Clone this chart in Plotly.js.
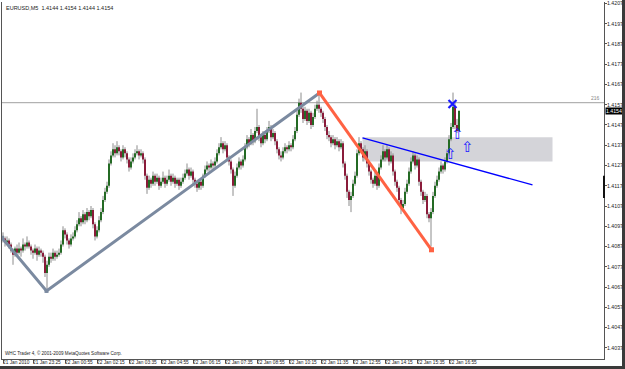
<!DOCTYPE html>
<html><head><meta charset="utf-8">
<script src="https://cdn.plot.ly/plotly-3.0.1.min.js"></script>
<style>html,body{margin:0;padding:0;background:#3a3a3a;width:625px;height:369px;overflow:hidden}#chart{width:622px;height:366px;background:#fff}</style>
</head><body><div id="chart"></div>
<script>
// EURUSD M5 bars (bar index 0 = 21 Jan 22:10)
const opens = [1.4092,1.4091,1.4089,1.4090,1.4088,1.4085,1.4083,1.4086,1.4084,1.4086,
1.4085,1.4088,1.4087,1.4089,1.4087,1.4085,1.4084,1.4086,1.4083,1.4085,
1.4084,1.4082,1.4074,1.4078,1.4082,1.4081,1.4084,1.4082,1.4083,1.4084,
1.4088,1.4095,1.4093,1.4090,1.4088,1.4091,1.4092,1.4095,1.4098,1.4101,
1.4099,1.4103,1.4100,1.4104,1.4102,1.4105,1.4098,1.4092,1.4095,1.4100,
1.4104,1.4110,1.4114,1.4117,1.4128,1.4132,1.4135,1.4133,1.4136,1.4134,
1.4131,1.4135,1.4133,1.4130,1.4126,1.4129,1.4131,1.4133,1.4134,1.4132,
1.4133,1.4130,1.4122,1.4116,1.4120,1.4118,1.4122,1.4119,1.4121,1.4117,
1.4119,1.4121,1.4118,1.4120,1.4122,1.4119,1.4121,1.4118,1.4120,1.4117,
1.4119,1.4121,1.4123,1.4125,1.4122,1.4124,1.4120,1.4118,1.4116,1.4119,
1.4117,1.4122,1.4125,1.4127,1.4126,1.4128,1.4127,1.4129,1.4133,1.4136,
1.4138,1.4135,1.4137,1.4131,1.4129,1.4125,1.4117,1.4122,1.4126,1.4129,
1.4127,1.4130,1.4136,1.4140,1.4138,1.4142,1.4139,1.4144,1.4146,1.4141,
1.4138,1.4142,1.4140,1.4144,1.4146,1.4141,1.4143,1.4139,1.4135,1.4132,
1.4131,1.4134,1.4136,1.4135,1.4137,1.4136,1.4140,1.4144,1.4152,1.4158,
1.4155,1.4150,1.4154,1.4149,1.4153,1.4147,1.4151,1.4155,1.4157,1.4155,
1.4153,1.4150,1.4146,1.4142,1.4141,1.4138,1.4140,1.4137,1.4139,1.4136,
1.4138,1.4128,1.4122,1.4114,1.4110,1.4112,1.4118,1.4122,1.4133,1.4138,
1.4135,1.4131,1.4134,1.4128,1.4124,1.4120,1.4118,1.4122,1.4117,1.4126,
1.4130,1.4134,1.4131,1.4135,1.4129,1.4132,1.4124,1.4119,1.4116,1.4110,
1.4106,1.4108,1.4114,1.4118,1.4124,1.4129,1.4132,1.4127,1.4130,1.4119,
1.4114,1.4110,1.4112,1.4103,1.4101,1.4104,1.4112,1.4117,1.4120,1.4124,
1.4127,1.4125,1.4129,1.4133,1.4140,1.4146,1.4156,1.4147,1.4144];
const highs = [1.4094,1.4092,1.4092,1.4091,1.4089,1.4086,1.4087,1.4088,1.4089,1.4087,
1.4091,1.4089,1.4092,1.4090,1.4088,1.4086,1.4088,1.4087,1.4087,1.4086,
1.4085,1.4083,1.4080,1.4084,1.4084,1.4086,1.4085,1.4085,1.4086,1.4090,
1.4097,1.4096,1.4094,1.4091,1.4093,1.4094,1.4097,1.4100,1.4104,1.4102,
1.4105,1.4104,1.4106,1.4105,1.4107,1.4106,1.4099,1.4097,1.4102,1.4106,
1.4112,1.4116,1.4119,1.4130,1.4134,1.4138,1.4137,1.4139,1.4137,1.4135,
1.4137,1.4136,1.4134,1.4131,1.4131,1.4133,1.4135,1.4137,1.4135,1.4135,
1.4134,1.4131,1.4123,1.4122,1.4121,1.4124,1.4123,1.4123,1.4122,1.4121,
1.4124,1.4122,1.4122,1.4125,1.4123,1.4123,1.4122,1.4121,1.4121,1.4121,
1.4123,1.4125,1.4128,1.4126,1.4126,1.4125,1.4121,1.4119,1.4120,1.4120,
1.4123,1.4127,1.4129,1.4128,1.4130,1.4129,1.4131,1.4135,1.4138,1.4141,
1.4139,1.4139,1.4138,1.4132,1.4130,1.4126,1.4124,1.4128,1.4131,1.4130,
1.4132,1.4138,1.4142,1.4141,1.4145,1.4143,1.4146,1.4155,1.4147,1.4142,
1.4144,1.4143,1.4146,1.4149,1.4147,1.4145,1.4144,1.4140,1.4136,1.4134,
1.4136,1.4138,1.4137,1.4139,1.4138,1.4142,1.4146,1.4154,1.4160,1.4163,
1.4156,1.4156,1.4155,1.4155,1.4154,1.4153,1.4157,1.4159,1.4163,1.4156,
1.4154,1.4151,1.4147,1.4144,1.4142,1.4142,1.4141,1.4141,1.4140,1.4140,
1.4139,1.4129,1.4123,1.4115,1.4114,1.4120,1.4124,1.4135,1.4141,1.4139,
1.4136,1.4137,1.4135,1.4129,1.4125,1.4121,1.4124,1.4123,1.4128,1.4132,
1.4137,1.4135,1.4137,1.4136,1.4134,1.4133,1.4125,1.4120,1.4117,1.4111,
1.4110,1.4116,1.4120,1.4126,1.4131,1.4134,1.4133,1.4132,1.4131,1.4120,
1.4115,1.4114,1.4113,1.4104,1.4106,1.4114,1.4119,1.4122,1.4126,1.4129,
1.4128,1.4131,1.4135,1.4142,1.4148,1.4163,1.4158,1.4150,1.4154];
const lows = [1.4089,1.4087,1.4088,1.4086,1.4084,1.4078,1.4082,1.4083,1.4083,1.4082,
1.4084,1.4085,1.4086,1.4086,1.4083,1.4081,1.4083,1.4080,1.4082,1.4082,
1.4079,1.4072,1.4065,1.4077,1.4079,1.4080,1.4080,1.4081,1.4082,1.4083,
1.4087,1.4091,1.4088,1.4086,1.4087,1.4090,1.4091,1.4094,1.4097,1.4097,
1.4098,1.4098,1.4099,1.4100,1.4101,1.4096,1.4090,1.4091,1.4094,1.4099,
1.4103,1.4109,1.4113,1.4116,1.4127,1.4131,1.4131,1.4132,1.4132,1.4129,
1.4130,1.4131,1.4128,1.4124,1.4125,1.4128,1.4130,1.4132,1.4130,1.4131,
1.4128,1.4120,1.4113,1.4115,1.4116,1.4117,1.4117,1.4118,1.4115,1.4116,
1.4118,1.4116,1.4117,1.4119,1.4117,1.4118,1.4116,1.4117,1.4115,1.4116,
1.4118,1.4120,1.4122,1.4120,1.4121,1.4118,1.4116,1.4114,1.4115,1.4115,
1.4116,1.4121,1.4124,1.4124,1.4125,1.4125,1.4126,1.4128,1.4132,1.4135,
1.4133,1.4134,1.4129,1.4127,1.4123,1.4112,1.4116,1.4121,1.4125,1.4125,
1.4126,1.4129,1.4135,1.4136,1.4137,1.4137,1.4138,1.4143,1.4139,1.4136,
1.4137,1.4138,1.4139,1.4143,1.4139,1.4140,1.4137,1.4133,1.4130,1.4129,
1.4130,1.4133,1.4133,1.4134,1.4134,1.4135,1.4139,1.4143,1.4151,1.4153,
1.4148,1.4149,1.4147,1.4148,1.4145,1.4146,1.4150,1.4154,1.4153,1.4151,
1.4148,1.4144,1.4140,1.4139,1.4136,1.4137,1.4135,1.4136,1.4134,1.4135,
1.4126,1.4120,1.4111,1.4107,1.4104,1.4111,1.4117,1.4121,1.4132,1.4133,
1.4129,1.4130,1.4126,1.4122,1.4118,1.4116,1.4117,1.4115,1.4116,1.4125,
1.4129,1.4129,1.4130,1.4127,1.4128,1.4122,1.4117,1.4114,1.4108,1.4103,
1.4105,1.4107,1.4113,1.4117,1.4123,1.4128,1.4125,1.4126,1.4117,1.4112,
1.4108,1.4109,1.4101,1.4099,1.4087,1.4103,1.4111,1.4116,1.4119,1.4123,
1.4123,1.4124,1.4128,1.4132,1.4139,1.4145,1.4145,1.4143,1.4144];
const closes = [1.4091,1.4089,1.4090,1.4088,1.4085,1.4083,1.4086,1.4084,1.4086,1.4085,
1.4088,1.4087,1.4089,1.4087,1.4085,1.4084,1.4086,1.4083,1.4085,1.4084,
1.4082,1.4074,1.4078,1.4082,1.4081,1.4084,1.4082,1.4083,1.4084,1.4088,
1.4095,1.4093,1.4090,1.4088,1.4091,1.4092,1.4095,1.4098,1.4101,1.4099,
1.4103,1.4100,1.4104,1.4102,1.4105,1.4098,1.4092,1.4095,1.4100,1.4104,
1.4110,1.4114,1.4117,1.4128,1.4132,1.4135,1.4133,1.4136,1.4134,1.4131,
1.4135,1.4133,1.4130,1.4126,1.4129,1.4131,1.4133,1.4134,1.4132,1.4133,
1.4130,1.4122,1.4116,1.4120,1.4118,1.4122,1.4119,1.4121,1.4117,1.4119,
1.4121,1.4118,1.4120,1.4122,1.4119,1.4121,1.4118,1.4120,1.4117,1.4119,
1.4121,1.4123,1.4125,1.4122,1.4124,1.4120,1.4118,1.4116,1.4119,1.4117,
1.4122,1.4125,1.4127,1.4126,1.4128,1.4127,1.4129,1.4133,1.4136,1.4138,
1.4135,1.4137,1.4131,1.4129,1.4125,1.4117,1.4122,1.4126,1.4129,1.4127,
1.4130,1.4136,1.4140,1.4138,1.4142,1.4139,1.4144,1.4146,1.4141,1.4138,
1.4142,1.4140,1.4144,1.4146,1.4141,1.4143,1.4139,1.4135,1.4132,1.4131,
1.4134,1.4136,1.4135,1.4137,1.4136,1.4140,1.4144,1.4152,1.4158,1.4155,
1.4150,1.4154,1.4149,1.4153,1.4147,1.4151,1.4155,1.4157,1.4155,1.4153,
1.4150,1.4146,1.4142,1.4141,1.4138,1.4140,1.4137,1.4139,1.4136,1.4138,
1.4128,1.4122,1.4114,1.4110,1.4112,1.4118,1.4122,1.4133,1.4138,1.4135,
1.4131,1.4134,1.4128,1.4124,1.4120,1.4118,1.4122,1.4117,1.4126,1.4130,
1.4134,1.4131,1.4135,1.4129,1.4132,1.4124,1.4119,1.4116,1.4110,1.4106,
1.4108,1.4114,1.4118,1.4124,1.4129,1.4132,1.4127,1.4130,1.4119,1.4114,
1.4110,1.4112,1.4103,1.4101,1.4104,1.4112,1.4117,1.4120,1.4124,1.4127,
1.4125,1.4129,1.4133,1.4140,1.4146,1.4156,1.4147,1.4144,1.4154];

// time axis labels (bar index of each label)
const timeTickBars = [0,15,31,47,63,79,95,111,127,143,159,175,191,207,223];
const timeTickLabels = ["21 Jan 2010","21 Jan 23:25","22 Jan 00:55","22 Jan 02:15","22 Jan 03:35","22 Jan 04:55","22 Jan 06:15","22 Jan 07:35","22 Jan 08:55","22 Jan 10:15","22 Jan 11:35","22 Jan 12:55","22 Jan 14:15","22 Jan 15:35","22 Jan 16:55"];
const priceTicks = [1.4037,1.4047,1.4057,1.4067,1.4077,1.4087,1.4097,1.4107,1.4117,1.4127,1.4137,1.4147,1.4157,1.4167,1.4177,1.4187,1.4197,1.4207];

// chart objects (bar index, price)
const zigGrayBars = [-0.5, 21.75, 158.25];
const zigGrayPrices = [1.40913, 1.40651, 1.41628];
const zigRedBars = [158.25, 214.25];
const zigRedPrices = [1.41628, 1.40854];
const trendBars = [179.75, 264.75];
const trendPrices = [1.41406, 1.41174];
const zoneBars = [179.75, 274.75];
const zonePrices = [1.4129, 1.4141];
const arrowBars = [223.75, 227.25, 232.25];
const arrowPrices = [1.41322, 1.41421, 1.41357];
const crossBar = [224.75];
const crossPrice = [1.41574];
const levelPrice = 1.4158;
const levelLabel = "216";
const lastPrice = 1.4154;
const axisMark = [1.4111, 1.4122];
const headerText = "EURUSD,M5  1.4144 1.4154 1.4144 1.4154";
const footerText = "WHC Trader 4, \u00a9 2001-2009 MetaQuotes Software Corp.";

const idx = closes.map((_, i) => i);
const wx = [], wy = [];
idx.forEach(i => { wx.push(i, i, null); wy.push(lows[i], highs[i], null); });
const upX = [], upY = [], dnX = [], dnY = [];
idx.forEach(i => {
  const lo = Math.min(opens[i], closes[i]);
  const hi = Math.max(Math.max(opens[i], closes[i]), lo + 0.00004);
  if (closes[i] >= opens[i]) { upX.push(i, i, null); upY.push(lo, hi, null); }
  else { dnX.push(i, i, null); dnY.push(lo, hi, null); }
});

const F = 'Liberation Sans, Arial, sans-serif';
const traces = [
  {type:'scatter', mode:'lines', x:wx, y:wy, line:{color:'#8c8c8c', width:1}, hoverinfo:'skip', showlegend:false},
  {type:'scatter', mode:'lines', x:upX, y:upY, line:{color:'#246a24', width:2}, hoverinfo:'skip', showlegend:false},
  {type:'scatter', mode:'lines', x:dnX, y:dnY, line:{color:'#8a1c3a', width:2}, hoverinfo:'skip', showlegend:false},
  {type:'scatter', mode:'lines+markers', x:zigGrayBars, y:zigGrayPrices, line:{color:'#7b8aa0', width:3}, marker:{symbol:'square', size:4, color:'#7b8aa0'}, showlegend:false},
  {type:'scatter', mode:'lines+markers', x:zigRedBars, y:zigRedPrices, line:{color:'#ff6243', width:3}, marker:{symbol:'square', size:5, color:'#ff6243'}, showlegend:false},
  {type:'scatter', mode:'lines', x:trendBars, y:trendPrices, line:{color:'#0000ff', width:1.3}, showlegend:false},
  {type:'scatter', mode:'text', x:arrowBars, y:arrowPrices, text:arrowBars.map(()=>'\u21e7'), textfont:{family:'DejaVu Sans', size:15, color:'#1a1aff'}, showlegend:false},
  {type:'scatter', mode:'markers', x:crossBar, y:crossPrice, marker:{symbol:'x-thin', size:8, line:{color:'#1a1aff', width:2.2}}, showlegend:false}
];

const annotations = [
  {xref:'paper', yref:'paper', x:0.004, y:0.998, xanchor:'left', yanchor:'top', showarrow:false, text:headerText, font:{family:F, size:5.5, color:'#222'}},
  {xref:'paper', yref:'paper', x:0.002, y:0.0, yshift:1, xanchor:'left', yanchor:'bottom', showarrow:false, text:footerText, font:{family:F, size:4.6, color:'#222'}},
  {xref:'paper', yref:'y', x:0.997, y:levelPrice, xanchor:'right', yanchor:'bottom', showarrow:false, text:levelLabel, font:{family:F, size:5, color:'#888'}},
  {xref:'paper', yref:'y', x:1, xshift:1, y:lastPrice, xanchor:'left', yanchor:'middle', showarrow:false, text:lastPrice.toFixed(4), bgcolor:'#000', borderpad:0, font:{family:F, size:5.2, color:'#fff'}}
];
timeTickBars.forEach((b, k) => annotations.push({
  xref:'x', yref:'paper', x:b, y:0, xanchor:'left', yanchor:'top', xshift:-1, yshift:0, showarrow:false, borderpad:0,
  text:timeTickLabels[k], font:{family:F, size:4.8, color:'#222'}
}));

const layout = {
  width:622, height:366,
  margin:{l:2, r:18, t:2, b:7},
  paper_bgcolor:'#ffffff', plot_bgcolor:'#ffffff',
  showlegend:false, hovermode:false,
  xaxis:{range:[-0.5, 300.5], showgrid:false, zeroline:false, showline:true, linecolor:'#555', linewidth:1,
    tickmode:'array', tickvals:timeTickBars, showticklabels:false, ticks:'outside', ticklen:3, tickcolor:'#555', fixedrange:true},
  yaxis:{range:[1.40315, 1.42077], side:'right', showgrid:false, zeroline:false, showline:true, mirror:true, linecolor:'#555', linewidth:1,
    tickmode:'array', tickvals:priceTicks, tickformat:'.4f', ticks:'outside', ticklen:2, tickcolor:'#555',
    tickfont:{family:F, size:5.2, color:'#222'}, ticklabelstandoff:-1, fixedrange:true},
  shapes:[
    {type:'rect', layer:'below', xref:'x', yref:'y', x0:zoneBars[0], x1:zoneBars[1], y0:zonePrices[0], y1:zonePrices[1], fillcolor:'#d4d4d9', line:{width:0}},
    {type:'line', layer:'below', xref:'paper', yref:'y', x0:0, x1:1, y0:levelPrice, y1:levelPrice, line:{color:'#a0a0a0', width:1}},
    {type:'line', xref:'paper', yref:'y', x0:1, x1:1, y0:axisMark[0], y1:axisMark[1], line:{color:'#111', width:2}}
  ],
  annotations: annotations
};
Plotly.newPlot('chart', traces, layout, {staticPlot:true, displayModeBar:false});
</script></body></html>
